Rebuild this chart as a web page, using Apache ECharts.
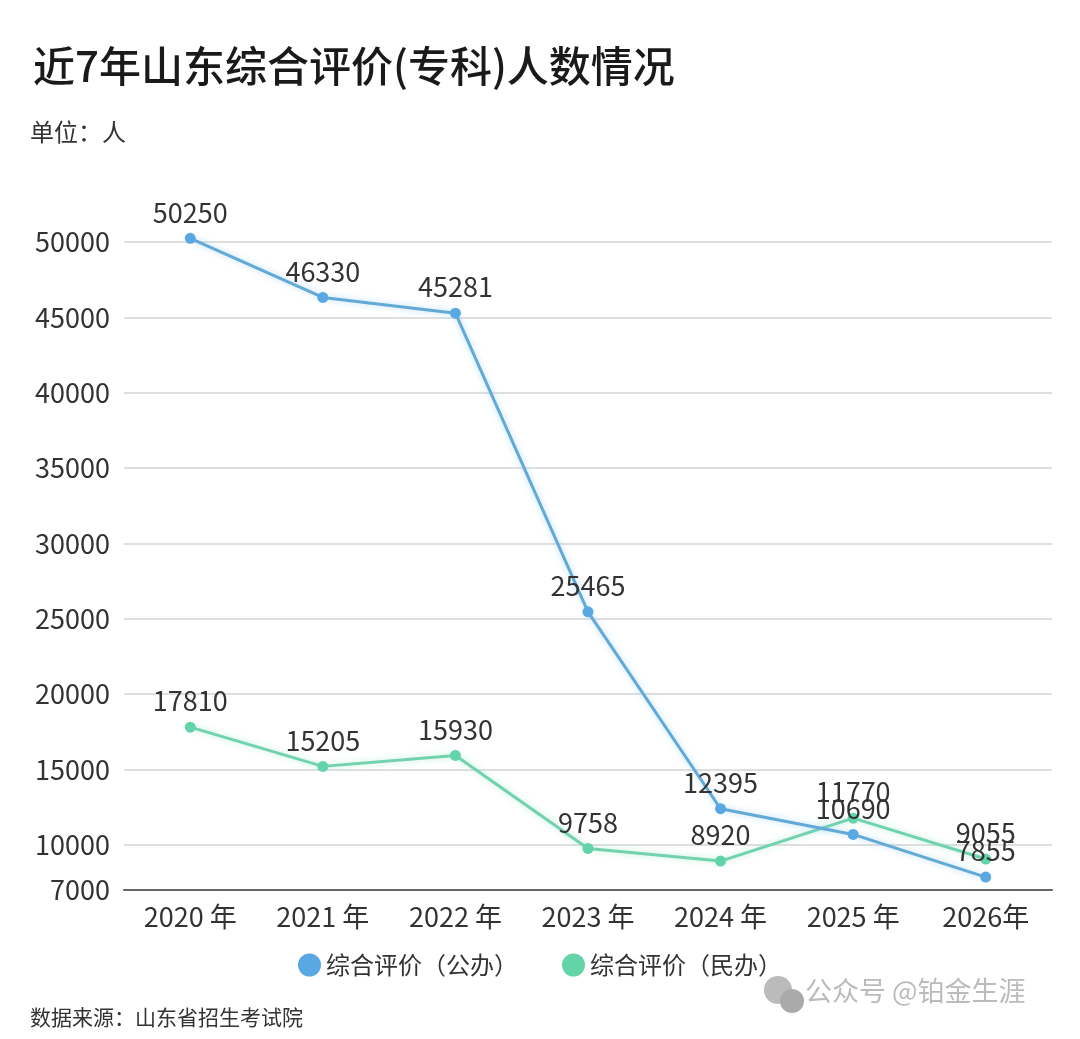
<!DOCTYPE html>
<html lang="zh">
<head>
<meta charset="UTF-8">
<script src="https://cdn.jsdelivr.net/npm/echarts@6/dist/echarts.min.js"></script>
<style>
  html, body { margin: 0; padding: 0; background: #fff; }
  #main { width: 1080px; height: 1039px; }
</style>
</head>
<body>
<div id="main"></div>
<script>
// data
var years = ['2020 年', '2021 年', '2022 年', '2023 年', '2024 年', '2025 年', '2026年'];
var publicCount = [50250, 46330, 45281, 25465, 12395, 10690, 7855];
var privateCount = [17810, 15205, 15930, 9758, 8920, 11770, 9055];
var yTicks = [7000, 10000, 15000, 20000, 25000, 30000, 35000, 40000, 45000, 50000];

var font = '"Noto Sans CJK SC", "Noto Sans", sans-serif';
var chart = echarts.init(document.getElementById('main'));

var option = {
    backgroundColor: '#fff',
    textStyle: { fontFamily: font },
    title: {
        text: '近7年山东综合评价(专科)人数情况',
        left: 28,
        top: 40,
        textStyle: { fontSize: 42, fontWeight: 500, color: '#1a1a1a', fontFamily: font }
    },
    graphic: [
        { type: 'text', left: 30, top: 120, style: { text: '单位：人', fontSize: 24, fill: '#333', fontFamily: font } },
        { type: 'text', left: 30, top: 1007, style: { text: '数据来源：山东省招生考试院', fontSize: 21, fill: '#333', fontFamily: font } },
        { type: 'text', left: 805, top: 977, style: { text: '公众号 @铂金生涯', fontSize: 27, fill: '#bbb', fontFamily: font } },
        { type: 'circle', shape: { cx: 778, cy: 990, r: 14 }, style: { fill: '#bbb' } },
        { type: 'circle', shape: { cx: 792, cy: 1001, r: 12 }, style: { fill: '#aaa' } }
    ],
    legend: {
        top: 948,
        left: 'center',
        itemGap: 44,
        itemWidth: 23,
        itemHeight: 23,
        icon: 'circle',
        textStyle: { fontSize: 24, color: '#333', fontFamily: font },
        data: ['综合评价（公办）', '综合评价（民办）']
    },
    grid: { left: 124, right: 28, top: 212, bottom: 149, containLabel: false },
    xAxis: {
        type: 'category',
        data: years,
        boundaryGap: true,
        axisLine: { lineStyle: { color: '#666', width: 2 } },
        axisTick: { alignWithLabel: true, length: 7, lineStyle: { color: '#555', width: 2 } },
        axisLabel: { fontSize: 27, color: '#333', margin: 13, fontFamily: font }
    },
    yAxis: {
        type: 'value',
        min: 7000,
        max: 52000,
        axisLine: { show: false },
        axisTick: { show: false, customValues: yTicks },
        axisLabel: {
            fontSize: 27, color: '#333', margin: 14, customValues: yTicks, fontFamily: font,
            formatter: function (v) { return String(v); }
        },
        splitLine: { lineStyle: { color: '#d4d4d4', width: 1.5 } }
    },
    series: [
        {
            name: '综合评价（公办）',
            type: 'line',
            data: publicCount,
            symbol: 'circle',
            symbolSize: 11,
            itemStyle: { color: '#5aa8e2' },
            lineStyle: { color: '#62a9d6', width: 3, shadowColor: 'rgba(130,200,240,0.6)', shadowBlur: 6 },
            label: { show: true, position: 'top', distance: 7, fontSize: 27, color: '#333', fontFamily: font },
            z: 3
        },
        {
            name: '综合评价（民办）',
            type: 'line',
            data: privateCount,
            symbol: 'circle',
            symbolSize: 11,
            itemStyle: { color: '#63d3a8' },
            lineStyle: { color: '#72d2ae', width: 3, shadowColor: 'rgba(140,230,190,0.6)', shadowBlur: 6 },
            label: { show: true, position: 'top', distance: 7, fontSize: 27, color: '#333', fontFamily: font },
            z: 2
        }
    ]
};

chart.setOption(option);
</script>
</body>
</html>
